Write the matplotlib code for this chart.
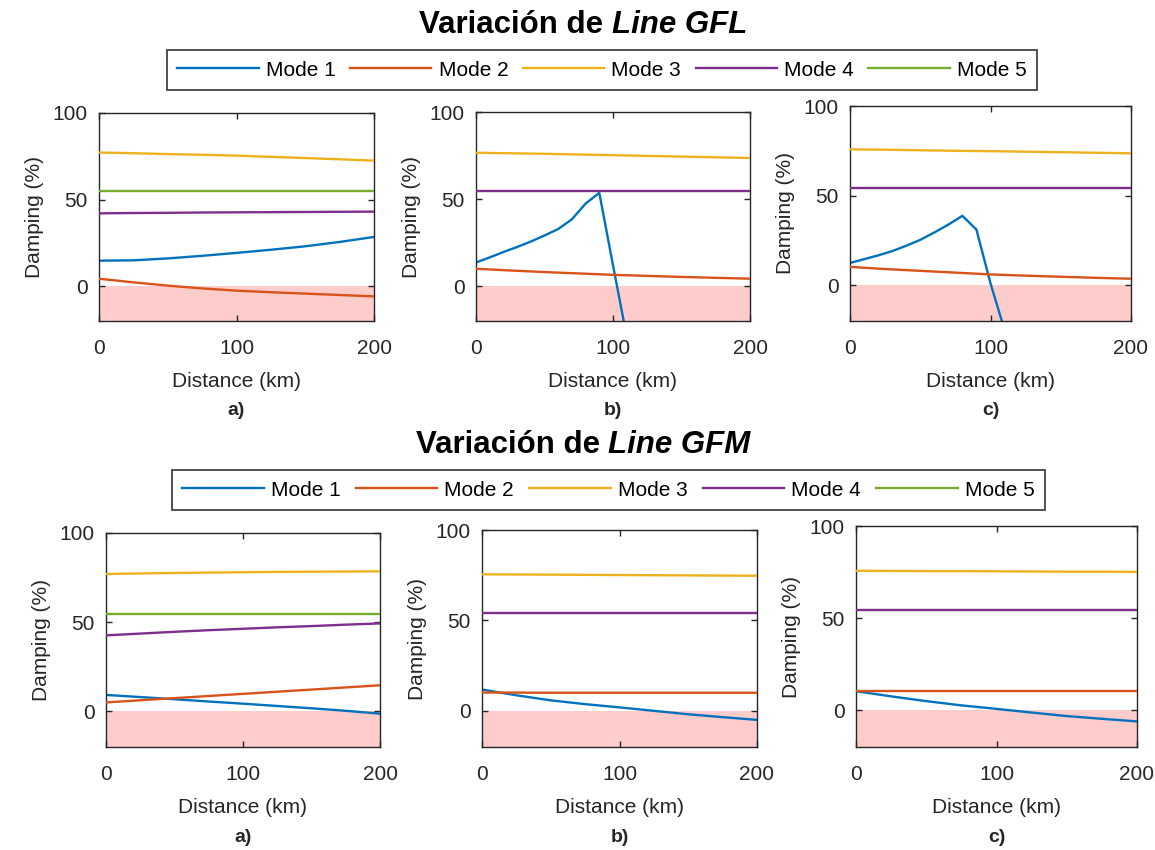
import matplotlib
matplotlib.use("Agg")
import matplotlib.pyplot as plt
import numpy as np

plt.rcParams['font.family'] = ['Liberation Sans', 'DejaVu Sans']

# ---------------- data ----------------
x_smooth = [0, 25, 50, 75, 100, 125, 150, 175, 200]
x_fine = [0, 10, 20, 30, 40, 50, 60, 70, 80, 90, 100, 110]

# Line GFL
gfl_a_m1 = [14.8, 15.0, 16.1, 17.6, 19.3, 21.1, 23.1, 25.6, 28.5]
gfl_a_m2 = [4.4, 2.3, 0.4, -1.2, -2.5, -3.4, -4.2, -5.0, -5.8]
gfl_a_m3 = [77.2, 76.8, 76.3, 75.9, 75.4, 74.7, 74.0, 73.3, 72.5]
gfl_a_m4 = [42.1, 42.3, 42.4, 42.6, 42.7, 42.8, 42.9, 43.0, 43.1]
gfl_a_m5 = [54.8, 54.8, 54.8, 54.8, 54.8, 54.8, 54.8, 54.8, 54.8]

gfl_b_m1 = [13.6, 16.5, 19.6, 22.5, 25.6, 29.1, 32.8, 38.4, 47.4, 53.6, 12.0, -29.0]
gfl_b_m2 = [10.0, 9.0, 8.1, 7.3, 6.5, 5.9, 5.3, 4.8, 4.3]
gfl_b_m3 = [76.6, 76.3, 76.0, 75.6, 75.2, 74.8, 74.4, 74.0, 73.6]
gfl_b_m4 = [54.5, 54.5, 54.5, 54.5, 54.5, 54.5, 54.5, 54.5, 54.5]

gfl_c_m1 = [12.4, 14.5, 16.6, 19.0, 22.0, 25.3, 29.4, 33.8, 38.7, 31.0, 1.0, -25.0]
gfl_c_m2 = [10.2, 9.0, 8.0, 7.0, 6.0, 5.3, 4.7, 4.1, 3.6]
gfl_c_m3 = [75.8, 75.6, 75.3, 75.0, 74.8, 74.5, 74.2, 73.9, 73.6]
gfl_c_m4 = [54.4, 54.4, 54.4, 54.4, 54.4, 54.4, 54.4, 54.4, 54.4]

# Line GFM
gfm_a_m1 = [9.2, 8.0, 6.8, 5.5, 4.3, 3.0, 1.7, 0.3, -1.3]
gfm_a_m2 = [5.0, 6.2, 7.4, 8.6, 9.8, 11.0, 12.2, 13.4, 14.6]
gfm_a_m3 = [77.0, 77.3, 77.6, 77.8, 78.0, 78.2, 78.3, 78.4, 78.5]
gfm_a_m4 = [42.6, 43.6, 44.6, 45.5, 46.3, 47.1, 47.8, 48.6, 49.3]
gfm_a_m5 = [54.8, 54.8, 54.8, 54.8, 54.8, 54.8, 54.8, 54.8, 54.8]

gfm_b_m1 = [11.8, 8.6, 5.8, 3.7, 1.9, 0.0, -1.9, -3.5, -5.0]
gfm_b_m2 = [10.1, 10.1, 10.0, 10.0, 10.0, 10.0, 10.0, 10.0, 10.0]
gfm_b_m3 = [75.5, 75.4, 75.3, 75.2, 75.1, 75.0, 74.9, 74.8, 74.7]
gfm_b_m4 = [54.2, 54.2, 54.2, 54.2, 54.2, 54.2, 54.2, 54.2, 54.2]

gfm_c_m1 = [10.3, 7.5, 4.9, 2.6, 0.7, -1.3, -3.2, -4.7, -6.1]
gfm_c_m2 = [10.3, 10.3, 10.3, 10.3, 10.3, 10.3, 10.3, 10.3, 10.3]
gfm_c_m3 = [75.7, 75.6, 75.5, 75.5, 75.4, 75.3, 75.2, 75.2, 75.1]
gfm_c_m4 = [54.3, 54.3, 54.3, 54.3, 54.3, 54.3, 54.3, 54.3, 54.3]

mode_labels = ['Mode 1', 'Mode 2', 'Mode 3', 'Mode 4', 'Mode 5']
colors = ['#0072BD', '#D95319', '#EDB120', '#7E2F8E', '#77AC30']
panel_labels = ['a)', 'b)', 'c)']
titles = [('Variación de ', 'Line GFL'), ('Variación de ', 'Line GFM')]

# each panel: list of (x, y) per mode (None = absent)
panels = [
    [(x_smooth, gfl_a_m1), (x_smooth, gfl_a_m2), (x_smooth, gfl_a_m3), (x_smooth, gfl_a_m4), (x_smooth, gfl_a_m5)],
    [(x_fine, gfl_b_m1), (x_smooth, gfl_b_m2), (x_smooth, gfl_b_m3), (x_smooth, gfl_b_m4), None],
    [(x_fine, gfl_c_m1), (x_smooth, gfl_c_m2), (x_smooth, gfl_c_m3), (x_smooth, gfl_c_m4), None],
    [(x_smooth, gfm_a_m1), (x_smooth, gfm_a_m2), (x_smooth, gfm_a_m3), (x_smooth, gfm_a_m4), (x_smooth, gfm_a_m5)],
    [(x_smooth, gfm_b_m1), (x_smooth, gfm_b_m2), (x_smooth, gfm_b_m3), (x_smooth, gfm_b_m4), None],
    [(x_smooth, gfm_c_m1), (x_smooth, gfm_c_m2), (x_smooth, gfm_c_m3), (x_smooth, gfm_c_m4), None],
]

# ---------------- layout (pixels) ----------------
W, H = 1155, 850
fig = plt.figure(figsize=(W / 100, H / 100), dpi=100)

# left, right, top, bottom in pixels
boxes = [
    (99, 374, 113, 321), (476, 750, 112, 321), (850, 1131, 106, 321),
    (106, 380, 533, 747), (482, 757, 530, 747), (856, 1137, 526, 747),
]

def fx(px):
    return px / W

def fy(py):
    return 1 - py / H

dark = '#262626'
axes = []
for i, (l, r, t, b) in enumerate(boxes):
    ax = fig.add_axes([fx(l), fy(b), fx(r) - fx(l), (b - t) / H])
    ax.axhspan(-20, 0, color=(1.0, 0.8, 0.8), lw=0, zorder=0)
    for k, item in enumerate(panels[i]):
        if item is None:
            continue
        xs, ys = item
        ax.plot(xs, ys, color=colors[k], lw=1.7, zorder=2 + k)
    ax.set_xlim(0, 200)
    ax.set_ylim(-20, 100)
    ax.set_xticks([0, 100, 200])
    ax.set_yticks([0, 50, 100])
    ax.tick_params(direction='in', length=4, width=1, top=True, right=True,
                   labelsize=15, colors=dark)
    ax.tick_params(axis='x', pad=13)
    ax.tick_params(axis='y', pad=8)
    for s in ax.spines.values():
        s.set_color(dark)
        s.set_linewidth(1.0)
    ax.set_xlabel('Distance (km)', fontsize=15, color=dark, labelpad=10)
    ax.set_ylabel('Damping (%)', fontsize=15, color=dark, labelpad=6)
    cx = (l + r) / 2
    ly = 410 if i < 3 else 838
    fig.text(fx(cx), fy(ly), panel_labels[i % 3], ha='center', va='center',
             fontsize=14, fontweight='bold', color=dark)
    axes.append(ax)

# legends
handles = [plt.Line2D([], [], color=c, lw=1.7) for c in colors]
leg_boxes = [(167, 1037, 50, 90), (172, 1045, 470, 510)]
for (l, r, t, b) in leg_boxes:
    leg = fig.legend(handles, mode_labels, loc='center', ncol=5,
                     bbox_to_anchor=(fx(l), fy(b), fx(r) - fx(l), (b - t) / H),
                     mode='expand', fontsize=15, handlelength=3.9,
                     handletextpad=0.35, borderaxespad=0, frameon=True,
                     fancybox=False, edgecolor='#333333', framealpha=1,
                     borderpad=0.5)
    leg.get_frame().set_linewidth(1.2)
    for txt in leg.get_texts():
        txt.set_color('black')

# titles
fig.canvas.draw()
renderer = fig.canvas.get_renderer()
for (plain, ital), ty in zip(titles, [25, 445]):
    t1 = fig.text(0, fy(ty), plain, fontsize=22.5, fontweight='bold', ha='left', va='center')
    t2 = fig.text(0, fy(ty), ital, fontsize=22.5, fontweight='bold', style='italic', ha='left', va='center')
    w1 = t1.get_window_extent(renderer).width
    w2 = t2.get_window_extent(renderer).width
    start = 583 - (w1 + w2) / 2
    t1.set_x(fx(start))
    t2.set_x(fx(start + w1))

fig.savefig('out.png', dpi=100)
